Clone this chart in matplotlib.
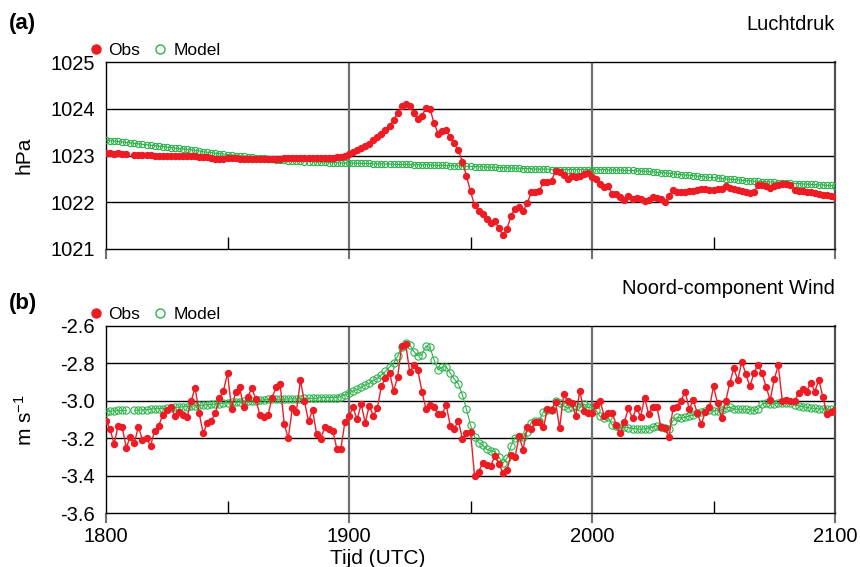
import numpy as np
import matplotlib
matplotlib.use("Agg")
from matplotlib import pyplot as plt
from matplotlib.lines import Line2D
from matplotlib.ticker import FixedLocator, FixedFormatter

plt.rcParams['font.family'] = ['Liberation Sans', 'DejaVu Sans']
plt.rcParams['mathtext.default'] = 'regular'

nan = np.nan

# minutes after 18:00 UTC, one value per minute
minutes = np.arange(181)
time_ticks = [0, 60, 120, 180]
time_labels = ["1800", "1900", "2000", "2100"]
half_hour_ticks = [30, 90, 150]

pressure_obs = [
    1023.05, 1023.05, 1023.04, 1023.05, 1023.04, 1023.03, nan, 1023.02, 1023.02, 1023.01,
    1023.01, 1023.01, 1023.00, 1023.00, 1023.00, 1022.99, 1022.99, 1022.99, 1022.99, 1022.98,
    1022.98, 1022.98, 1022.98, 1022.97, 1022.97, 1022.96, 1022.94, 1022.93, 1022.93, 1022.93,
    1022.94, 1022.94, 1022.94, 1022.93, 1022.93, 1022.93, 1022.93, 1022.93, 1022.93, 1022.93,
    1022.93, 1022.93, 1022.93, 1022.93, 1022.94, 1022.94, 1022.94, 1022.94, 1022.94, 1022.95,
    1022.95, 1022.95, 1022.95, 1022.95, 1022.95, 1022.95, 1022.95, 1022.96, 1022.97, 1022.99,
    1023.03, 1023.07, 1023.12, 1023.15, 1023.20, 1023.25, 1023.34, 1023.39, 1023.46, 1023.54,
    1023.63, 1023.76, 1023.91, 1024.05, 1024.11, 1024.06, 1023.90, 1023.79, 1023.84, 1024.02,
    1024.00, 1023.69, 1023.47, 1023.52, 1023.54, 1023.39, 1023.26, 1023.12, 1022.87, 1022.56,
    1022.23, 1021.94, 1021.82, 1021.75, 1021.64, 1021.55, 1021.59, 1021.45, 1021.29, 1021.43,
    1021.71, 1021.86, 1021.89, 1021.82, 1021.98, 1022.21, 1022.21, 1022.23, 1022.44, 1022.43,
    1022.46, 1022.67, 1022.64, 1022.58, 1022.50, 1022.56, 1022.54, 1022.56, 1022.61, 1022.63,
    1022.53, 1022.50, 1022.39, 1022.33, 1022.35, 1022.17, 1022.18, 1022.11, 1022.04, 1022.14,
    1022.07, 1022.10, 1022.06, 1022.03, 1022.05, 1022.12, 1022.10, 1022.08, 1022.00, 1022.14,
    1022.26, 1022.21, 1022.21, 1022.22, 1022.23, 1022.24, 1022.27, 1022.29, 1022.28, 1022.26,
    1022.26, 1022.28, 1022.29, 1022.34, 1022.31, 1022.29, 1022.27, 1022.25, 1022.22, 1022.20,
    1022.22, 1022.36, 1022.37, 1022.34, 1022.30, 1022.35, 1022.37, 1022.38, 1022.38, 1022.36,
    1022.27, 1022.25, 1022.23, 1022.22, 1022.21, 1022.19, 1022.18, 1022.16, 1022.15, 1022.14,
    1022.12,
]

pressure_model = [
    1023.33, 1023.32, 1023.31, 1023.30, 1023.29, 1023.28, 1023.27, 1023.26, 1023.25, 1023.24,
    1023.23, 1023.22, 1023.21, 1023.20, 1023.19, 1023.18, 1023.17, 1023.16, 1023.15, 1023.14,
    1023.13, 1023.12, 1023.11, 1023.10, 1023.08, 1023.07, 1023.06, 1023.05, 1023.04, 1023.03,
    1023.02, 1023.01, 1023.00, 1022.99, 1022.98, 1022.97, 1022.96, 1022.95, 1022.95, 1022.94,
    1022.93, 1022.92, 1022.91, 1022.91, 1022.90, 1022.89, 1022.89, 1022.88, 1022.88, 1022.87,
    1022.87, 1022.87, 1022.86, 1022.86, 1022.86, 1022.85, 1022.85, 1022.85, 1022.84, 1022.84,
    1022.84, 1022.84, 1022.83, 1022.83, 1022.83, 1022.83, 1022.82, 1022.82, 1022.82, 1022.82,
    1022.82, 1022.81, 1022.81, 1022.81, 1022.81, 1022.81, 1022.80, 1022.80, 1022.80, 1022.80,
    1022.80, 1022.79, 1022.79, 1022.79, 1022.79, 1022.78, 1022.78, 1022.78, 1022.77, 1022.77,
    1022.77, 1022.76, 1022.76, 1022.76, 1022.75, 1022.75, 1022.75, 1022.74, 1022.74, 1022.74,
    1022.73, 1022.73, 1022.73, 1022.72, 1022.72, 1022.72, 1022.71, 1022.71, 1022.71, 1022.71,
    1022.70, 1022.70, 1022.70, 1022.70, 1022.70, 1022.70, 1022.70, 1022.70, 1022.70, 1022.70,
    1022.70, 1022.70, 1022.70, 1022.70, 1022.69, 1022.69, 1022.69, 1022.69, 1022.68, 1022.68,
    1022.68, 1022.67, 1022.67, 1022.66, 1022.66, 1022.65, 1022.64, 1022.63, 1022.63, 1022.62,
    1022.61, 1022.60, 1022.59, 1022.58, 1022.58, 1022.57, 1022.56, 1022.55, 1022.54, 1022.53,
    1022.53, 1022.52, 1022.51, 1022.50, 1022.49, 1022.49, 1022.48, 1022.47, 1022.46, 1022.46,
    1022.45, 1022.45, 1022.44, 1022.44, 1022.43, 1022.43, 1022.42, 1022.42, 1022.41, 1022.41,
    1022.40, 1022.40, 1022.39, 1022.39, 1022.38, 1022.38, 1022.37, 1022.37, 1022.36, 1022.36,
    1022.35,
]

wind_obs = [
    -3.106, -3.152, -3.230, -3.132, -3.141, -3.250, -3.191, -3.227, -3.138, -3.209,
    -3.200, -3.241, -3.159, -3.134, -3.076, -3.049, -3.031, -3.081, -3.058, -3.076,
    -3.088, -3.004, -2.930, -3.067, -3.173, -3.120, -3.106, -3.067, -2.987, -2.948,
    -2.853, -3.042, -2.955, -2.928, -3.036, -2.981, -2.933, -2.992, -3.076, -3.088,
    -3.077, -2.983, -2.928, -2.910, -3.124, -3.200, -3.040, -3.060, -2.892, -3.004,
    -3.108, -3.049, -3.177, -3.205, -3.141, -3.150, -3.161, -3.255, -3.255, -3.111,
    -3.081, -3.036, -3.099, -3.019, -3.116, -3.028, -3.079, -3.040, -2.921, -2.880,
    -2.850, -2.946, -2.876, -2.706, -2.697, -2.848, -2.809, -2.836, -2.951, -3.042,
    -3.022, -3.031, -3.070, -3.070, -3.022, -3.134, -3.150, -3.106, -3.204, -3.173,
    -3.164, -3.399, -3.378, -3.333, -3.342, -3.348, -3.294, -3.339, -3.383, -3.369,
    -3.289, -3.300, -3.190, -3.260, -3.140, -3.150, -3.112, -3.112, -3.142, -3.046,
    -3.050, -3.005, -3.147, -2.966, -3.002, -3.011, -3.080, -2.947, -3.057, -3.067,
    -3.067, -3.023, -3.002, -3.080, -3.067, -3.067, -3.129, -3.174, -3.112, -3.041,
    -3.094, -3.037, -3.085, -2.984, -3.073, -3.031, -3.031, -3.138, -3.147, -3.195,
    -3.040, -3.036, -2.999, -2.951, -3.044, -2.996, -3.067, -3.125, -3.058, -3.035,
    -2.924, -3.013, -3.093, -3.004, -2.907, -2.827, -2.889, -2.791, -2.859, -2.924,
    -2.850, -2.809, -2.853, -2.928, -2.996, -2.885, -2.812, -3.004, -2.996, -2.999,
    -3.004, -2.960, -2.939, -2.951, -2.903, -2.951, -2.889, -2.978, -3.072, -3.058,
    -3.049,
]

wind_model = [
    -3.058, -3.056, -3.054, -3.052, -3.052, -3.052, nan, -3.052, -3.050, -3.049,
    -3.047, -3.045, -3.043, -3.042, -3.042, -3.040, -3.038, -3.036, -3.034, -3.033,
    -3.031, -3.029, -3.027, -3.025, -3.024, -3.022, -3.020, -3.017, -3.015, -3.013,
    -3.011, -3.009, -3.008, -3.006, -3.004, -3.002, -3.000, -2.999, -2.997, -2.995,
    -2.993, -2.993, -2.992, -2.992, -2.992, -2.990, -2.990, -2.990, -2.990, -2.988,
    -2.988, -2.987, -2.987, -2.983, -2.983, -2.983, -2.983, -2.983, -2.978, -2.969,
    -2.960, -2.948, -2.939, -2.928, -2.916, -2.907, -2.892, -2.880, -2.862, -2.844,
    -2.821, -2.800, -2.764, -2.711, -2.693, -2.702, -2.738, -2.759, -2.756, -2.708,
    -2.716, -2.782, -2.836, -2.821, -2.818, -2.853, -2.885, -2.910, -2.969, -3.045,
    -3.129, -3.191, -3.223, -3.236, -3.259, -3.266, -3.271, -3.301, -3.333, -3.307,
    -3.241, -3.196, -3.191, -3.195, -3.166, -3.116, -3.106, -3.106, -3.058, -3.052,
    -3.049, -3.001, -3.013, -3.028, -3.040, -3.031, -3.028, -3.035, -3.017, -3.035,
    -3.040, -3.052, -3.084, -3.093, -3.088, -3.129, -3.134, -3.147, -3.141, -3.143,
    -3.148, -3.150, -3.152, -3.150, -3.148, -3.140, -3.132, -3.138, -3.143, -3.148,
    -3.106, -3.088, -3.093, -3.088, -3.081, -3.076, -3.067, -3.061, -3.054, -3.052,
    -3.054, -3.054, -3.049, -3.038, -3.035, -3.044, -3.045, -3.045, -3.045, -3.049,
    -3.052, -3.044, -3.017, -3.013, -3.019, -3.017, -3.013, -3.010, -3.010, -3.010,
    -3.022, -3.028, -3.031, -3.035, -3.040, -3.040, -3.044, -3.044, -3.045, -3.045,
    -3.049,
]

pressure_ticks = [1021, 1022, 1023, 1024, 1025]
wind_ticks = [-3.6, -3.4, -3.2, -3.0, -2.8, -2.6]

red = "#ed1c24"
green = "#2db34a"

fig = plt.figure(figsize=(8.6, 5.67), dpi=100)
ax1 = fig.add_axes([106 / 860, 1 - 249 / 567, 729 / 860, 187 / 567])
ax2 = fig.add_axes([106 / 860, 1 - 513.3 / 567, 729 / 860, 187.6 / 567])


def style_panel(ax, yticks, fmt):
    ax.set_xlim(0, 180)
    ax.set_ylim(yticks[0], yticks[-1])
    ax.yaxis.set_major_locator(FixedLocator(yticks))
    ax.yaxis.set_major_formatter(FixedFormatter([fmt % t for t in yticks]))
    ax.xaxis.set_major_locator(FixedLocator(time_ticks))
    ax.xaxis.set_major_formatter(FixedFormatter(time_labels))
    ax.xaxis.set_minor_locator(FixedLocator(half_hour_ticks))
    ax.tick_params(axis="y", length=0, pad=8, labelsize=14.5)
    ax.tick_params(axis="x", which="major", direction="out", length=7, width=1.5,
                   color="#707070", labelsize=14.5, pad=3)
    ax.tick_params(axis="x", which="minor", direction="in", length=9, width=1, color="black")
    for t in yticks[1:-1]:
        ax.axhline(t, color="black", lw=1.0, zorder=1)
    for t in time_ticks[1:3]:
        ax.axvline(t, color="#707070", lw=1.6, zorder=1)
    for side in ["top", "left", "bottom"]:
        ax.spines[side].set_linewidth(1.0)
    ax.spines["right"].set_color("#505050")
    ax.spines["right"].set_linewidth(1.6)
    handles = [Line2D([], [], ls="none", marker="o", ms=6.5, color=red),
               Line2D([], [], ls="none", marker="o", ms=6.5, mfc="none", mec=green, mew=1)]
    ax.legend(handles, ["Obs", "Model"], loc="lower left", bbox_to_anchor=(-0.025, 1.02),
              ncol=2, frameon=False, fontsize=12.5, handlelength=0.9, handletextpad=0.3,
              columnspacing=0.7, borderpad=0, borderaxespad=0)


style_panel(ax1, pressure_ticks, "%d")
style_panel(ax2, wind_ticks, "%.1f")
ax1.tick_params(axis="x", labelbottom=False)

ax1.plot(minutes, pressure_model, color=green, lw=0.8, marker="o", ms=4.5,
         mfc="none", mec=green, mew=0.8, zorder=3)
ax1.plot(minutes, pressure_obs, color=red, lw=1.0, marker="o", ms=4.3,
         mec=red, mfc=red, zorder=4)

ax2.plot(minutes, wind_model, color=green, lw=0.8, marker="o", ms=5.2,
         mfc="none", mec=green, mew=0.8, zorder=3)
ax2.plot(minutes, wind_obs, color=red, lw=1.0, marker="o", ms=4.3,
         mec=red, mfc=red, zorder=4)

ax1.text(1.0, 1.2, "Luchtdruk", transform=ax1.transAxes, ha="right", va="center", fontsize=14.5)
ax2.text(1.0, 1.196, "Noord-component Wind", transform=ax2.transAxes, ha="right", va="center",
         fontsize=14.5)

fig.text(9 / 860, 1 - 24 / 567, "(a)", fontsize=16, fontweight="bold", ha="left", va="center")
fig.text(9 / 860, 1 - 304 / 567, "(b)", fontsize=16, fontweight="bold", ha="left", va="center")
fig.text(24 / 860, 1 - 155 / 567, "hPa", rotation=90, fontsize=15, ha="center", va="center")
fig.text(25 / 860, 1 - 420 / 567, "m s$^{-1}$", rotation=90, fontsize=15, ha="center", va="center")
fig.text(378 / 860, 1 - 559 / 567, "Tijd (UTC)", fontsize=15, ha="center", va="center")

fig.savefig("out.png", dpi=100)
